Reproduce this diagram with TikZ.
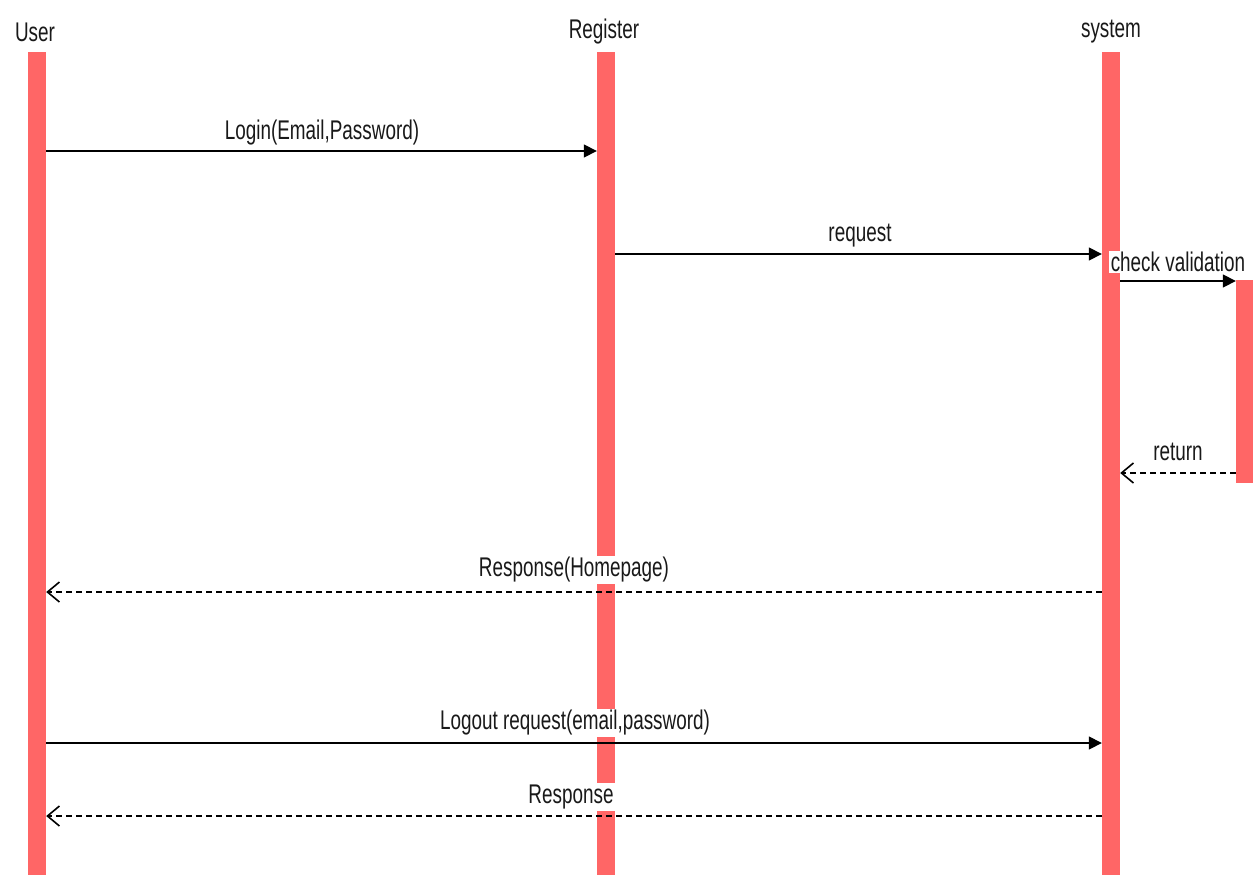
\documentclass[tikz,border=0pt]{standalone}
\usepackage{fontspec}
\newfontfamily\lab[FakeStretch=0.7]{Liberation Sans}
\usetikzlibrary{arrows.meta,calc}
\definecolor{barc}{RGB}{255,102,102}
\definecolor{ink}{RGB}{25,25,25}
\begin{document}
\begin{tikzpicture}[x=1pt,y=-1pt,
  lifebar/.style={draw=none,fill=barc,minimum width=18pt,inner sep=0pt,anchor=north},
  ptext/.style={text=ink,font=\lab\fontsize{27}{30}\selectfont,inner sep=1pt},
  mtext/.style={text=ink,font=\lab\fontsize{27}{30}\selectfont,fill=white,inner sep=1.5pt},
  callmsg/.style={draw=black,line width=1.6pt,-{Triangle[length=13pt,width=13pt]}},
  retmsg/.style={draw=black,line width=1.6pt,dash pattern=on 6pt off 4pt,-{Straight Barb[length=12pt,width=20pt,line width=1.6pt]}}
]
\useasboundingbox (0,0) rectangle (1253,875);
\fill[white] (0,0) rectangle (1253,875);
% lifelines
\node[lifebar,minimum height=823pt] (user) at (37,52) {};
\node[lifebar,minimum height=823pt] (reg) at (606,52) {};
\node[lifebar,minimum height=823pt] (sys) at (1111,52) {};
\node[lifebar,minimum width=17pt,minimum height=203pt] (act) at (1244.5,280) {};
% participant labels
\node[ptext] (userl) at (35,32) {User};
\node[ptext] (regl) at (604,32) {Register};
\node[ptext] (sysl) at (1111,32) {system};
% messages
\draw[callmsg] (user.east |- 0,151) -- (reg.west |- 0,151);
\draw[callmsg] (reg.east |- 0,254) -- (sys.west |- 0,254);
\draw[callmsg] (sys.east |- 0,281) -- (act.west |- 0,281);
\draw[retmsg] (act.west |- 0,473) -- (sys.east |- 0,473);
\draw[retmsg] (sys.west |- 0,592) -- (user.east |- 0,592);
\draw[callmsg] (user.east |- 0,743) -- (sys.west |- 0,743);
\draw[retmsg] (sys.west |- 0,816) -- (user.east |- 0,816);
% message labels
\node[mtext] (m1) at (322,133) {Login(Email,Password)};
\node[mtext] (m2) at (860,236) {request};
\node[mtext] (m3) at (1178,262) {check validation};
\node[mtext] (m4) at (1178,452) {return};
\node[mtext] (m5) at (574,570) {Response(Homepage)};
\node[mtext] (m6) at (575,723) {Logout request(email,password)};
\node[mtext] (m7) at (571,797) {Response};
\end{tikzpicture}
\end{document}
